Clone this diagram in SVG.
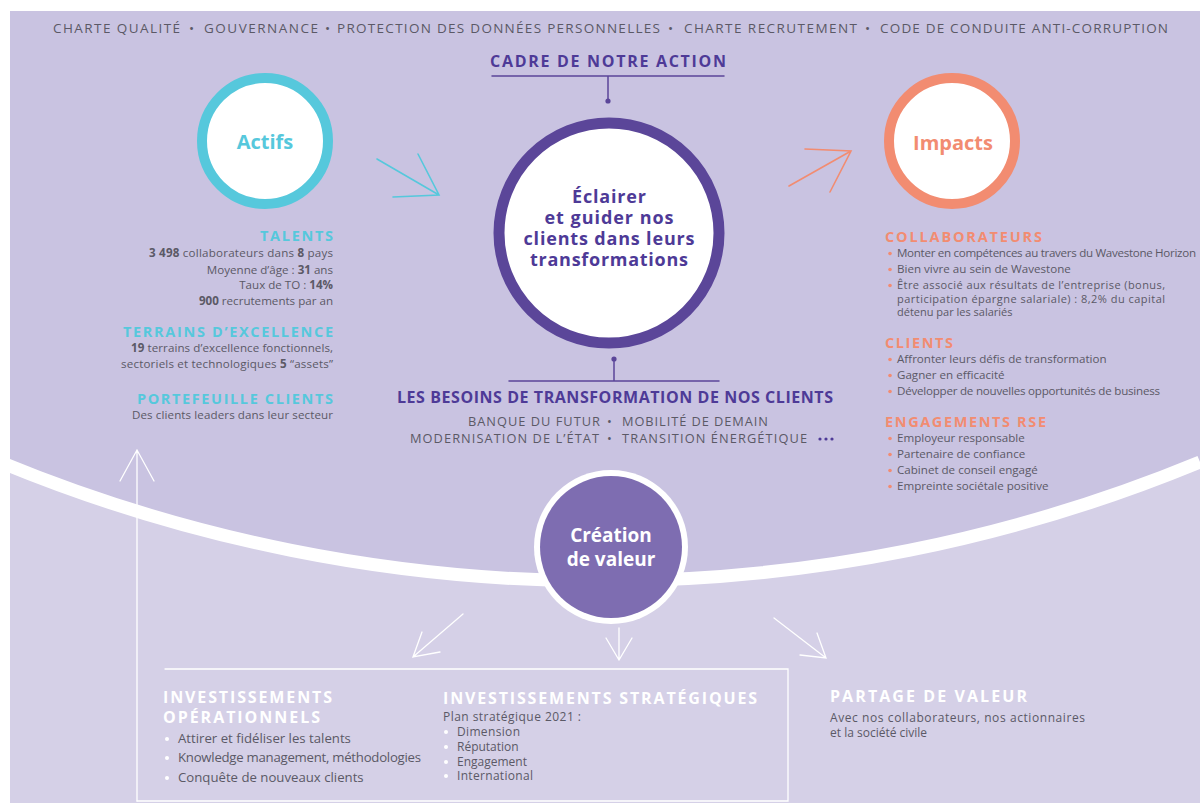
<svg xmlns="http://www.w3.org/2000/svg" width="1200" height="803" viewBox="0 0 1200 803">
<defs>
<style>
text{font-family:'Open Sans','Liberation Sans',sans-serif}
.body{font-size:11.6px;fill:#5b5966}
.bt{font-size:11px;fill:#5b5966}
.bb{font-size:13.2px;fill:#5b5966}
.bs{font-size:12px;fill:#5b5966}
.bo{font-weight:700}
.hc{font-size:14.5px;font-weight:700;fill:#56C8DC}
.hs{font-size:14.5px;font-weight:700;fill:#F28C71}
.hw{font-size:16px;font-weight:700;fill:#ffffff}
.hp{font-size:16px;font-weight:700;fill:#4E3A97}
.top{font-size:13.5px;fill:#5b5966}
.cap{font-size:12.8px;fill:#5b5966}
.mt{font-size:18px;font-weight:700;fill:#4E3A97}
.ln{fill:none;stroke-linecap:round}
.wl{fill:none;stroke:#ffffff;stroke-width:1.3;stroke-linecap:round}
</style>
</defs>
<rect x="0" y="0" width="1200" height="803" fill="#ffffff"/>
<rect x="10" y="11" width="1190" height="792" fill="#D5D0E7"/>
<path d="M10 11 H1200 V462 A1572 1572 0 0 1 10 466 Z" fill="#C9C3E1"/>
<path d="M0 462 A1572 1572 0 0 0 1200 462" fill="none" stroke="#ffffff" stroke-width="13"/>

<g id="top-bar">
<text class="top" x="53" y="33" textLength="127">CHARTE QUALITÉ</text>
<text class="top" x="189" y="33">•</text>
<text class="top" x="204" y="33" textLength="114">GOUVERNANCE</text>
<text class="top" x="325" y="33">•</text>
<text class="top" x="337" y="33" textLength="323">PROTECTION DES DONNÉES PERSONNELLES</text>
<text class="top" x="668" y="33">•</text>
<text class="top" x="684" y="33" textLength="173">CHARTE RECRUTEMENT</text>
<text class="top" x="865" y="33">•</text>
<text class="top" x="880" y="33" textLength="288">CODE DE CONDUITE ANTI-CORRUPTION</text>
</g>

<g id="cadre">
<text class="hp" x="608" y="67" text-anchor="middle" textLength="236">CADRE DE NOTRE ACTION</text>
</g>

<g id="connectors">
<path class="ln" d="M492 76 H724 M608 76 V101" stroke="#5B4699" stroke-width="1.5"/>
<circle cx="608" cy="101" r="2.6" fill="#5B4699"/>
<path class="ln" d="M509 381 H719 M614 359 V381" stroke="#5B4699" stroke-width="1.5"/>
<circle cx="614" cy="359" r="2.6" fill="#5B4699"/>
<path class="ln" d="M377 159 L439 195 M418 154 L439 195 L393 197" stroke="#56C8DC" stroke-width="1.6"/>
<path class="ln" d="M789 186 L851 151 M805 149 L851 151 L830 192" stroke="#F28C71" stroke-width="1.6"/>
<path class="wl" d="M137 801 V450 M120 481 L137 450 L154 481"/>
<path class="wl" d="M165 669 H788 V801 H137"/>
<path class="wl" d="M463 614 L413 657 M422 632 L413 657 L440 652"/>
<path class="wl" d="M619 628 V660 M606 638 L619 660 L632 638"/>
<path class="wl" d="M774 618 L826 658 M817 633 L826 658 L800 655"/>
</g>

<g id="actifs">
<circle cx="265" cy="141" r="63" fill="#ffffff" stroke="#56C8DC" stroke-width="10"/>
<text x="265" y="149" text-anchor="middle" font-size="20" font-weight="700" fill="#56C8DC">Actifs</text>
</g>

<g id="impacts">
<circle cx="952" cy="141" r="63" fill="#ffffff" stroke="#F28C71" stroke-width="10"/>
<text x="953" y="150" text-anchor="middle" font-size="20" font-weight="700" fill="#F28C71">Impacts</text>
</g>

<g id="mission">
<circle cx="609" cy="233" r="110" fill="#ffffff" stroke="#5B4699" stroke-width="11"/>
<text class="mt" text-anchor="middle"><tspan x="609" y="203" textLength="74">Éclairer</tspan><tspan x="609" y="224" textLength="129">et guider nos</tspan><tspan x="609" y="245" textLength="171">clients dans leurs</tspan><tspan x="609" y="266" textLength="158">transformations</tspan></text>
</g>

<g id="actifs-details">
<text class="hc" x="333" y="241" text-anchor="end" textLength="73">TALENTS</text>
<text class="body" x="333" y="257" text-anchor="end" textLength="184"><tspan class="bo">3 498</tspan> collaborateurs dans <tspan class="bo">8</tspan> pays</text>
<text class="body" x="333" y="274" text-anchor="end">Moyenne d’âge : <tspan class="bo">31</tspan> ans</text>
<text class="body" x="333" y="289" text-anchor="end">Taux de TO : <tspan class="bo">14%</tspan></text>
<text class="body" x="333" y="305" text-anchor="end"><tspan class="bo">900</tspan> recrutements par an</text>
<text class="hc" x="333" y="337" text-anchor="end" textLength="210">TERRAINS D’EXCELLENCE</text>
<text class="body" x="333" y="352" text-anchor="end" textLength="202"><tspan class="bo">19</tspan> terrains d’excellence fonctionnels,</text>
<text class="body" x="333" y="368" text-anchor="end" textLength="212">sectoriels et technologiques <tspan class="bo">5</tspan> “assets”</text>
<text class="hc" x="333" y="404" text-anchor="end" textLength="196">PORTEFEUILLE CLIENTS</text>
<text class="body" x="333" y="419" text-anchor="end" textLength="201">Des clients leaders dans leur secteur</text>
</g>

<g id="besoins">
<text class="hp" x="615" y="403" text-anchor="middle" textLength="436">LES BESOINS DE TRANSFORMATION DE NOS CLIENTS</text>
<text class="cap" x="468" y="426" textLength="132">BANQUE DU FUTUR</text>
<text class="cap" x="607" y="426">•</text>
<text class="cap" x="622" y="426" textLength="146">MOBILITÉ DE DEMAIN</text>
<text class="cap" x="410" y="443" textLength="189">MODERNISATION DE L’ÉTAT</text>
<text class="cap" x="607" y="443">•</text>
<text class="cap" x="622" y="443" textLength="185">TRANSITION ÉNERGÉTIQUE</text>
<g fill="#4E3A97"><circle cx="820" cy="439" r="1.6"/><circle cx="826" cy="439" r="1.6"/><circle cx="832" cy="439" r="1.6"/></g>
</g>

<g id="impacts-details">
<text class="hs" x="885" y="242" textLength="157">COLLABORATEURS</text>
<g fill="#F28C71">
<circle cx="890" cy="253.5" r="1.8"/><circle cx="890" cy="269.5" r="1.8"/><circle cx="890" cy="285.5" r="1.8"/>
<circle cx="890" cy="359.5" r="1.8"/><circle cx="890" cy="375.5" r="1.8"/><circle cx="890" cy="391.5" r="1.8"/>
<circle cx="890" cy="438.5" r="1.8"/><circle cx="890" cy="454.5" r="1.8"/><circle cx="890" cy="470.5" r="1.8"/><circle cx="890" cy="486.5" r="1.8"/>
</g>
<text class="body" x="897" y="257" textLength="299">Monter en compétences au travers du Wavestone Horizon</text>
<text class="body" x="897" y="273">Bien vivre au sein de Wavestone</text>
<text class="bt" x="897" y="289" textLength="268">Être associé aux résultats de l’entreprise (bonus,</text>
<text class="bt" x="897" y="302.5" textLength="268">participation épargne salariale) :  8,2% du capital</text>
<text class="bt" x="897" y="315.5">détenu par les salariés</text>
<text class="hs" x="885" y="348" textLength="68">CLIENTS</text>
<text class="body" x="897" y="363">Affronter leurs défis de transformation</text>
<text class="body" x="897" y="379">Gagner en efficacité</text>
<text class="body" x="897" y="395" textLength="263">Développer de nouvelles opportunités de business</text>
<text class="hs" x="885" y="427" textLength="161">ENGAGEMENTS RSE</text>
<text class="body" x="897" y="442">Employeur responsable</text>
<text class="body" x="897" y="458">Partenaire de confiance</text>
<text class="body" x="897" y="474">Cabinet de conseil engagé</text>
<text class="body" x="897" y="490">Empreinte sociétale positive</text>
</g>

<g id="creation">
<circle cx="611" cy="547" r="77" fill="#ffffff"/>
<circle cx="611" cy="547" r="71" fill="#7E6DB1"/>
<text text-anchor="middle" font-size="19" font-weight="700" fill="#ffffff"><tspan x="611" y="542">Création</tspan><tspan x="611" y="566">de valeur</tspan></text>
</g>

<g id="invest-ops">
<text class="hw" x="163" y="703" textLength="169">INVESTISSEMENTS</text>
<text class="hw" x="163" y="723" textLength="157">OPÉRATIONNELS</text>
<g fill="#ffffff"><circle cx="167" cy="739" r="2"/><circle cx="167" cy="758" r="2"/><circle cx="167" cy="778" r="2"/></g>
<text class="bb" x="178" y="743">Attirer et fidéliser les talents</text>
<text class="bb" x="178" y="762" textLength="243">Knowledge management, méthodologies</text>
<text class="bb" x="178" y="782">Conquête de nouveaux clients</text>
</g>

<g id="invest-strat">
<text class="hw" x="443" y="704" textLength="314">INVESTISSEMENTS STRATÉGIQUES</text>
<text class="bs" x="443" y="721" textLength="138">Plan stratégique 2021 :</text>
<g fill="#ffffff"><circle cx="446" cy="732" r="2"/><circle cx="446" cy="747" r="2"/><circle cx="446" cy="762" r="2"/><circle cx="446" cy="776" r="2"/></g>
<text class="bs" x="457" y="736" textLength="63">Dimension</text>
<text class="bs" x="457" y="751">Réputation</text>
<text class="bs" x="457" y="766">Engagement</text>
<text class="bs" x="457" y="780" textLength="76">International</text>
</g>

<g id="partage">
<text class="hw" x="830" y="702" textLength="197">PARTAGE DE VALEUR</text>
<text class="bs" x="830" y="722" textLength="255">Avec nos collaborateurs, nos actionnaires</text>
<text class="bs" x="830" y="736.5">et la société civile</text>
</g>
</svg>
